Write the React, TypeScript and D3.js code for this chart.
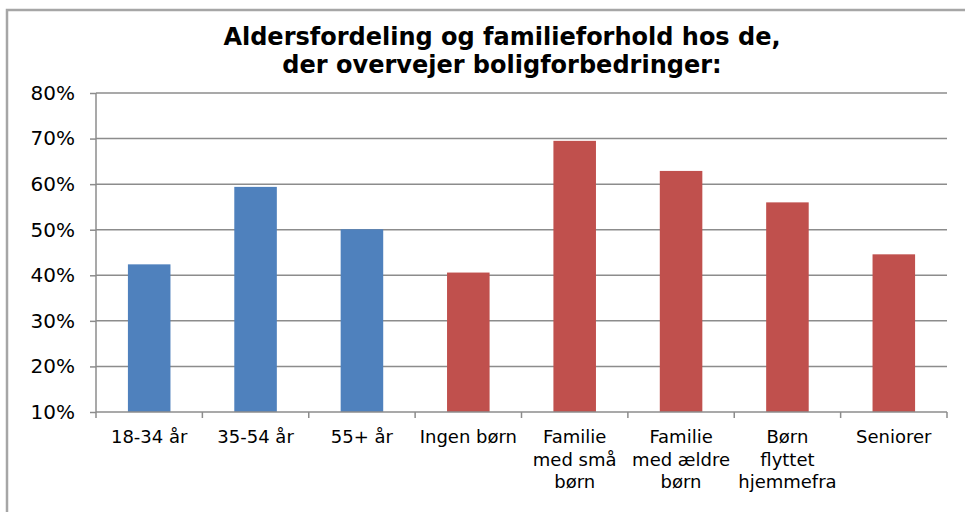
import { useEffect, useRef } from 'react';
import * as d3 from 'd3';

const categories = [
  '18-34 år',
  '35-54 år',
  '55+ år',
  'Ingen børn',
  'Familie\nmed små\nbørn',
  'Familie\nmed ældre\nbørn',
  'Børn\nflyttet\nhjemmefra',
  'Seniorer',
];
const values = [42.4, 59.4, 50.1, 40.6, 69.5, 62.9, 56.0, 44.6];
const groups = ['age', 'age', 'age', 'family', 'family', 'family', 'family', 'family'];
const yTicks = [10, 20, 30, 40, 50, 60, 70, 80];
const titleLines = ['Aldersfordeling og familieforhold hos de,', 'der overvejer boligforbedringer:'];

const COLORS: Record<string, string> = { age: '#4F81BD', family: '#C0504D' };

export default function App() {
  const svgRef = useRef<SVGSVGElement>(null);

  useEffect(() => {
    if (!svgRef.current) return;
    const svg = d3.select(svgRef.current);
    svg.selectAll('*').remove();

    const W = 965;
    const H = 512;
    const margin = { top: 93, right: 18, bottom: 100, left: 96 };
    const width = W - margin.left - margin.right;
    const height = H - margin.top - margin.bottom;

    // Outer frame
    svg
      .append('path')
      .attr('d', `M7,${H + 5} V10 H${W + 5}`)
      .attr('fill', 'none')
      .attr('stroke', '#a6a6a6')
      .attr('stroke-width', 2.5);

    // Title
    svg
      .append('text')
      .attr('x', 502)
      .attr('y', 45)
      .attr('text-anchor', 'middle')
      .attr('font-family', 'DejaVu Sans')
      .attr('font-weight', 'bold')
      .attr('font-size', '24px')
      .attr('fill', '#000')
      .selectAll('tspan')
      .data(titleLines)
      .join('tspan')
      .attr('x', 502)
      .attr('dy', (_, i) => (i === 0 ? 0 : 28))
      .text((d) => d);

    const g = svg.append('g').attr('transform', `translate(${margin.left},${margin.top})`);

    const x = d3.scaleBand().domain(categories).range([0, width]).paddingInner(0.6).paddingOuter(0.3);
    const y = d3.scaleLinear().domain([10, 80]).range([height, 0]);

    // Grid lines
    g.append('g')
      .selectAll('line')
      .data(yTicks.slice(1))
      .join('line')
      .attr('x1', 0)
      .attr('x2', width)
      .attr('y1', (d) => y(d))
      .attr('y2', (d) => y(d))
      .attr('stroke', '#8c8c8c')
      .attr('stroke-width', 1.5);

    // Bars
    g.append('g')
      .selectAll('rect')
      .data(categories)
      .join('rect')
      .attr('x', (d) => x(d) ?? 0)
      .attr('width', x.bandwidth())
      .attr('y', (_, i) => y(values[i]))
      .attr('height', (_, i) => height - y(values[i]))
      .attr('fill', (_, i) => COLORS[groups[i]]);

    // Y axis
    const yAxisG = g
      .append('g')
      .call(d3.axisLeft(y).tickValues(yTicks).tickSize(6).tickFormat((d) => `${d}%`));
    yAxisG.select('.domain').attr('stroke', '#8c8c8c').attr('stroke-width', 1.5).attr('d', `M0,0V${height}`);
    yAxisG.selectAll('.tick line').attr('stroke', '#8c8c8c').attr('stroke-width', 1.5);
    yAxisG
      .selectAll('.tick text')
      .attr('x', -21)
      .attr('fill', '#000')
      .attr('font-family', 'DejaVu Sans')
      .attr('font-size', '20px');

    // X axis: category boundaries get a tick
    const bounds = d3.range(categories.length + 1).map((i) => i * (width / categories.length));
    const xAxisG = g.append('g').attr('transform', `translate(0,${height})`);
    xAxisG
      .append('line')
      .attr('x1', 0)
      .attr('x2', width)
      .attr('stroke', '#8c8c8c')
      .attr('stroke-width', 1.5);
    xAxisG
      .selectAll('line.tk')
      .data(bounds)
      .join('line')
      .attr('class', 'tk')
      .attr('x1', (d) => d)
      .attr('x2', (d) => d)
      .attr('y1', 0)
      .attr('y2', 6)
      .attr('stroke', '#8c8c8c')
      .attr('stroke-width', 1.5);

    xAxisG
      .selectAll('text.lbl')
      .data(categories)
      .join('text')
      .attr('class', 'lbl')
      .attr('text-anchor', 'middle')
      .attr('font-family', 'DejaVu Sans')
      .attr('font-size', '18px')
      .attr('fill', '#000')
      .each(function (d) {
        const cx = (x(d) ?? 0) + x.bandwidth() / 2;
        d3.select(this)
          .selectAll('tspan')
          .data(d.split('\n'))
          .join('tspan')
          .attr('x', cx)
          .attr('y', (_, i) => 31 + i * 22.5)
          .text((t) => t);
      });
  }, []);

  return (
    <div style={{ position: 'fixed', left: 0, top: 0, width: 965, height: 512, background: '#fff' }}>
      <svg ref={svgRef} width={965} height={512} style={{ display: 'block' }} />
    </div>
  );
}
